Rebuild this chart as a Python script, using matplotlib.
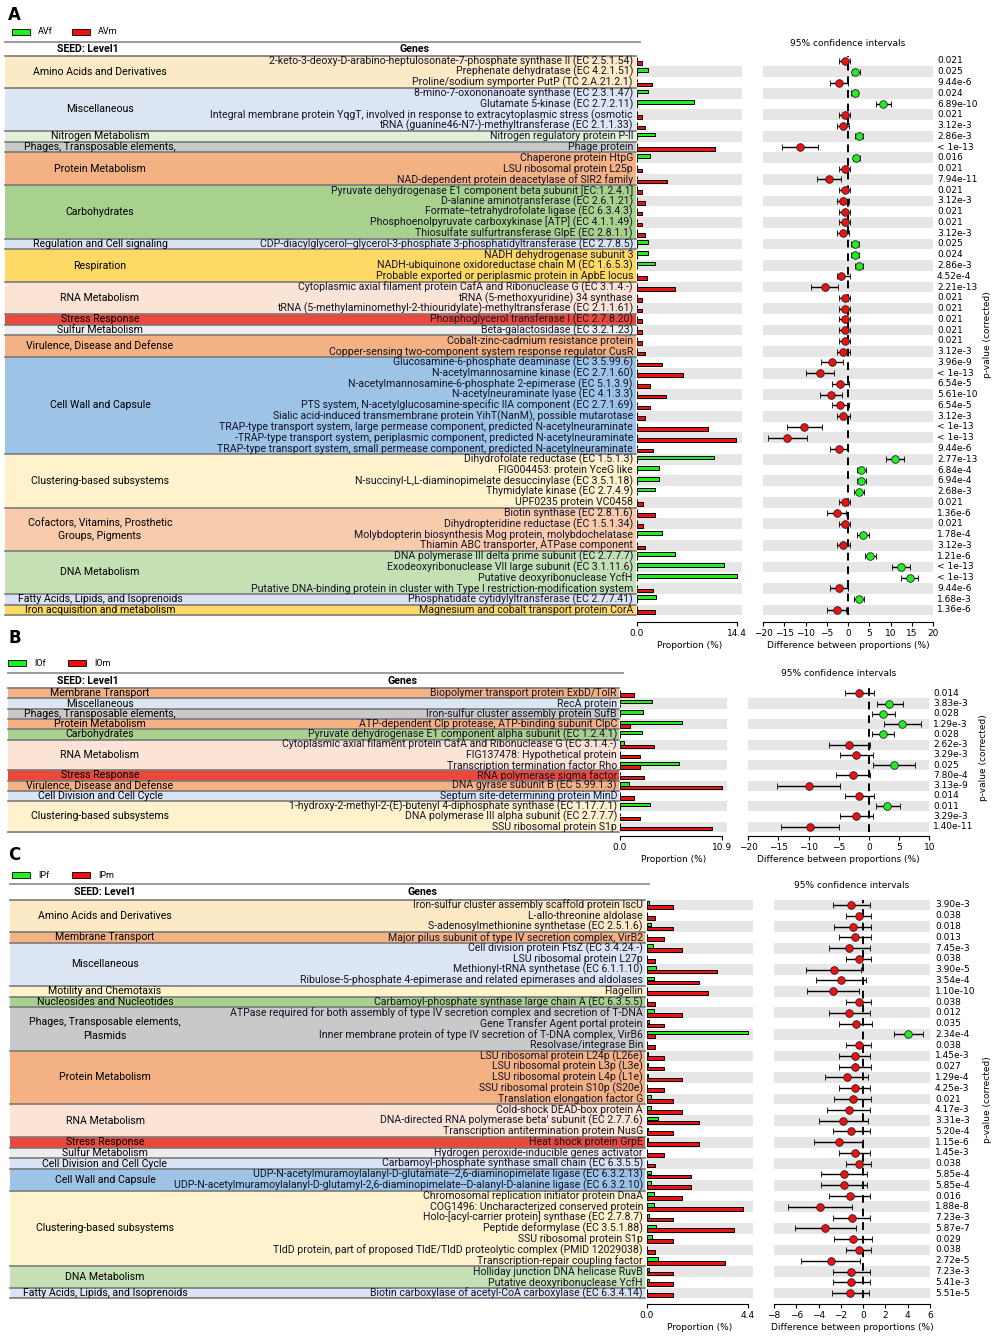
import matplotlib
matplotlib.use('Agg')
import matplotlib.pyplot as plt
from matplotlib.patches import Rectangle
import numpy as np

W, H = 996, 1339
GREEN = '#22ee22'
RED = '#ee1111'
SHADE = '#e6e6e6'
TFONT = 'Roboto'
TSIZE = 7.6
ASIZE = 6.5

# ---------------- panel A data ----------------
A_cats = ['Amino Acids and Derivatives', 'Miscellaneous', 'Nitrogen Metabolism',
          'Phages, Transposable elements,', 'Protein Metabolism', 'Carbohydrates',
          'Regulation and Cell signaling', 'Respiration', 'RNA Metabolism', 'Stress Response',
          'Sulfur Metabolism', 'Virulence, Disease and Defense', 'Cell Wall and Capsule',
          'Clustering-based subsystems', 'Cofactors, Vitamins, Prosthetic\nGroups, Pigments',
          'DNA Metabolism', 'Fatty Acids, Lipids, and Isoprenoids', 'Iron acquisition and metabolism']
A_sizes = [3, 4, 1, 1, 3, 5, 1, 3, 3, 1, 1, 2, 9, 5, 4, 4, 1, 1]
A_genes = [
    '2-keto-3-deoxy-D-arabino-heptulosonate-7-phosphate synthase II (EC 2.5.1.54)',
    'Prephenate dehydratase (EC 4.2.1.51)',
    'Proline/sodium symporter PutP (TC 2.A.21.2.1)',
    '8-mino-7-oxononanoate synthase (EC 2.3.1.47)',
    'Glutamate 5-kinase (EC 2.7.2.11)',
    'Integral membrane protein YqgT, involved in response to extracytoplasmic stress (osmotic',
    'tRNA (guanine46-N7-)-methyltransferase (EC 2.1.1.33)',
    'Nitrogen regulatory protein P-II',
    'Phage protein',
    'Chaperone protein HtpG',
    'LSU ribosomal protein L25p',
    'NAD-dependent protein deacetylase of SIR2 family',
    'Pyruvate dehydrogenase E1 component beta subunit [EC:1.2.4.1]',
    'D-alanine aminotransferase (EC 2.6.1.21)',
    'Formate--tetrahydrofolate ligase (EC 6.3.4.3)',
    'Phosphoenolpyruvate carboxykinase [ATP] (EC 4.1.1.49)',
    'Thiosulfate sulfurtransferase GlpE (EC 2.8.1.1)',
    'CDP-diacylglycerol--glycerol-3-phosphate 3-phosphatidyltransferase (EC 2.7.8.5)',
    'NADH dehydrogenase subunit 3',
    'NADH-ubiquinone oxidoreductase chain M (EC 1.6.5.3)',
    'Probable exported or periplasmic protein in ApbE locus',
    'Cytoplasmic axial filament protein CafA and Ribonuclease G (EC 3.1.4.-)',
    'tRNA (5-methoxyuridine) 34 synthase',
    'tRNA (5-methylaminomethyl-2-thiouridylate)-methyltransferase (EC 2.1.1.61)',
    'Phosphoglycerol transferase I (EC 2.7.8.20)',
    'Beta-galactosidase (EC 3.2.1.23)',
    'Cobalt-zinc-cadmium resistance protein',
    'Copper-sensing two-component system response regulator CusR',
    'Glucosamine-6-phosphate deaminase (EC 3.5.99.6)',
    'N-acetylmannosamine kinase (EC 2.7.1.60)',
    'N-acetylmannosamine-6-phosphate 2-epimerase (EC 5.1.3.9)',
    'N-acetylneuraminate lyase (EC 4.1.3.3)',
    'PTS system, N-acetylglucosamine-specific IIA component (EC 2.7.1.69)',
    'Sialic acid-induced transmembrane protein YihT(NanM), possible mutarotase',
    'TRAP-type transport system, large permease component, predicted N-acetylneuraminate',
    '-TRAP-type transport system, periplasmic component, predicted N-acetylneuraminate',
    'TRAP-type transport system, small permease component, predicted N-acetylneuraminate',
    'Dihydrofolate reductase (EC 1.5.1.3)',
    'FIG004453: protein YceG like',
    'N-succinyl-L,L-diaminopimelate desuccinylase (EC 3.5.1.18)',
    'Thymidylate kinase (EC 2.7.4.9)',
    'UPF0235 protein VC0458',
    'Biotin synthase (EC 2.8.1.6)',
    'Dihydropteridine reductase (EC 1.5.1.34)',
    'Molybdopterin biosynthesis Mog protein, molybdochelatase',
    'Thiamin ABC transporter, ATPase component',
    'DNA polymerase III delta prime subunit (EC 2.7.7.7)',
    'Exodeoxyribonuclease VII large subunit (EC 3.1.11.6)',
    'Putative deoxyribonuclease YcfH',
    'Putative DNA-binding protein in cluster with Type I restriction-modification system',
    'Phosphatidate cytidylyltransferase (EC 2.7.7.41)',
    'Magnesium and cobalt transport protein CorA',
]
A_green = [0, 1.6, 0, 1.6, 8.2, 0, 0, 2.6, 0, 1.8, 0, 0, 0, 0, 0, 0, 0, 1.6, 1.6, 2.6, 0, 0, 0, 0, 0, 0,
           0, 0, 0, 0, 0, 0, 0, 0, 0, 0, 0, 11.1, 3.1, 3.1, 2.65, 0, 0, 0, 3.55, 0, 5.4, 12.5, 14.4, 0, 2.7, 0]
A_red = [0.72, 0, 2.16, 0, 0, 0.72, 1.1, 0, 11.25, 0, 0.72, 4.3, 0.72, 1.1, 0.72, 0.72, 1.1, 0, 0, 0, 1.45, 5.4,
         0.72, 0.72, 0.72, 0.72,
         0.75, 1.15, 3.6, 6.6, 1.9, 4.1, 1.9, 1.15, 10.2, 14.3, 2.25, 0, 0, 0, 0, 0.8, 2.65, 0.8, 0, 1.2, 0, 0, 0,
         2.25, 0, 2.65]
A_diff = [-0.8, 1.7, -2.2, 1.6, 8.2, -0.8, -1.2, 2.6, -11.2, 1.95, -0.8, -4.5, -0.8, -1.2, -0.8, -0.8, -1.2, 1.65,
          1.65, 2.6, -1.55, -5.5, -0.8, -0.8, -0.8, -0.8,
          -0.8, -1.15, -3.75, -6.7, -1.8, -4.0, -1.8, -1.15, -10.3, -14.3, -2.2, 11.0, 3.0, 3.0, 2.5, -0.8, -2.6,
          -0.8, 3.5, -1.15, 5.25, 12.4, 14.5, -2.2, 2.6, -2.6]
A_lo = [-2.1, 0.95, -4.3, 0.8, 6.5, -2.1, -2.6, 1.65, -15.5, 1.1, -2.1, -7.2, -2.1, -2.6, -2.1, -2.1, -2.6, 0.8, 0.8,
        1.65, -2.6, -8.6, -2.1, -2.1, -2.1, -2.1,
        -2.1, -2.7, -6.4, -10.0, -3.8, -6.7, -3.8, -2.7, -14.35, -18.8, -4.3, 9.0, 2.0, 2.0, 1.35, -2.1, -4.9, -2.1,
        2.2, -2.7, 3.9, 10.4, 12.4, -4.3, 1.35, -4.9]
A_hi = [0.55, 2.75, 0.1, 2.35, 10.0, 0.55, 0.15, 3.5, -7.1, 2.8, 0.55, -1.7, 0.55, 0.15, 0.55, 0.55, 0.15, 2.6, 2.6,
        3.5, 0.4, -2.35, 0.55, 0.55, 0.55, 0.55,
        0.55, 0.4, -1.2, -3.3, 0.15, -1.35, 0.15, 0.4, -6.1, -9.65, 0.0, 13.1, 4.15, 4.15, 3.7, 0.55, -0.4, 0.55,
        4.9, 0.4, 6.65, 14.5, 16.55, 0.0, 3.7, -0.4]
A_p = ['0.021', '0.025', '9.44e-6', '0.024', '6.89e-10', '0.021', '3.12e-3', '2.86e-3', '< 1e-13', '0.016',
       '0.021', '7.94e-11', '0.021', '3.12e-3', '0.021', '0.021', '3.12e-3', '0.025', '0.024', '2.86e-3',
       '4.52e-4', '2.21e-13', '0.021', '0.021', '0.021', '0.021',
       '0.021', '3.12e-3', '3.96e-9', '< 1e-13', '6.54e-5', '5.61e-10', '6.54e-5', '3.12e-3', '< 1e-13',
       '< 1e-13', '9.44e-6', '2.77e-13', '6.84e-4', '6.94e-4', '2.68e-3', '0.021', '1.36e-6', '0.021',
       '1.78e-4', '3.12e-3', '1.21e-6', '< 1e-13', '< 1e-13', '9.44e-6', '1.68e-3', '1.36e-6']

# ---------------- panel B data ----------------
B_cats = ['Membrane Transport', 'Miscellaneous', 'Phages, Transposable elements,', 'Protein Metabolism',
          'Carbohydrates', 'RNA Metabolism', 'Stress Response', 'Virulence, Disease and Defense',
          'Cell Division and Cell Cycle', 'Clustering-based subsystems']
B_sizes = [1, 1, 1, 1, 1, 3, 1, 1, 1, 3]
B_genes = [
    'Biopolymer transport protein ExbD/TolR',
    'RecA protein',
    'Iron-sulfur cluster assembly protein SufB',
    'ATP-dependent Clp protease, ATP-binding subunit ClpC',
    'Pyruvate dehydrogenase E1 component alpha subunit (EC 1.2.4.1)',
    'Cytoplasmic axial filament protein CafA and Ribonuclease G (EC 3.1.4.-)',
    'FIG137478: Hypothetical protein',
    'Transcription termination factor Rho',
    'RNA polymerase sigma factor',
    'DNA gyrase subunit B (EC 5.99.1.3)',
    'Septum site-determining protein MinD',
    '1-hydroxy-2-methyl-2-(E)-butenyl 4-diphosphate synthase (EC 1.17.7.1)',
    'DNA polymerase III alpha subunit (EC 2.7.7.7)',
    'SSU ribosomal protein S1p',
]
B_green = [0, 3.4, 2.45, 6.6, 2.35, 0.47, 0, 6.3, 0, 0.95, 0, 3.2, 0, 0.05]
B_red = [1.55, 0, 0, 1.08, 0, 3.67, 2.1, 2.1, 2.6, 10.9, 1.55, 0, 2.1, 9.9]
B_diff = [-1.6, 3.4, 2.4, 5.5, 2.25, -3.25, -2.15, 4.15, -2.6, -10.0, -1.6, 3.05, -2.15, -9.8]
B_lo = [-4.0, 1.3, 0.55, 2.5, 0.45, -6.6, -4.8, 0.7, -5.5, -15.2, -4.0, 1.1, -4.8, -14.6]
B_hi = [0.8, 5.6, 4.35, 8.7, 4.15, 0.15, 0.6, 7.6, 0.15, -4.8, 0.8, 5.15, 0.6, -4.9]
B_p = ['0.014', '3.83e-3', '0.028', '1.29e-3', '0.028', '2.62e-3', '3.29e-3', '0.025', '7.80e-4', '3.13e-9',
       '0.014', '0.011', '3.29e-3', '1.40e-11']

# ---------------- panel C data ----------------
C_cats = ['Amino Acids and Derivatives', 'Membrane Transport', 'Miscellaneous', 'Motility and Chemotaxis',
          'Nucleosides and Nucleotides', 'Phages, Transposable elements,\nPlasmids', 'Protein Metabolism',
          'RNA Metabolism', 'Stress Response', 'Sulfur Metabolism', 'Cell Division and Cell Cycle',
          'Cell Wall and Capsule', 'Clustering-based subsystems', 'DNA Metabolism',
          'Fatty Acids, Lipids, and Isoprenoids']
C_sizes = [3, 1, 4, 1, 1, 4, 5, 3, 1, 1, 1, 2, 7, 2, 1]
C_genes = [
    'Iron-sulfur cluster assembly scaffold protein IscU',
    'L-allo-threonine aldolase',
    'S-adenosylmethionine synthetase (EC 2.5.1.6)',
    'Major pilus subunit of type IV secretion complex, VirB2',
    'Cell division protein FtsZ (EC 3.4.24.-)',
    'LSU ribosomal protein L27p',
    'Methionyl-tRNA synthetase (EC 6.1.1.10)',
    'Ribulose-5-phosphate 4-epimerase and related epimerases and aldolases',
    'Flagellin',
    'Carbamoyl-phosphate synthase large chain A (EC 6.3.5.5)',
    'ATPase required for both assembly of type IV secretion complex and secretion of T-DNA',
    'Gene Transfer Agent portal protein',
    'Inner membrane protein of type IV secretion of T-DNA complex, VirB6',
    'Resolvase/integrase Bin',
    'LSU ribosomal protein L24p (L26e)',
    'LSU ribosomal protein L3p (L3e)',
    'LSU ribosomal protein L4p (L1e)',
    'SSU ribosomal protein S10p (S20e)',
    'Translation elongation factor G',
    'Cold-shock DEAD-box protein A',
    "DNA-directed RNA polymerase beta' subunit (EC 2.7.7.6)",
    'Transcription antitermination protein NusG',
    'Heat shock protein GrpE',
    'Hydrogen peroxide-inducible genes activator',
    'Carbamoyl-phosphate synthase small chain (EC 6.3.5.5)',
    'UDP-N-acetylmuramoylalanyl-D-glutamate--2,6-diaminopimelate ligase (EC 6.3.2.13)',
    'UDP-N-acetylmuramoylalanyl-D-glutamyl-2,6-diaminopimelate--D-alanyl-D-alanine ligase (EC 6.3.2.10)',
    'Chromosomal replication initiator protein DnaA',
    'COG1496: Uncharacterized conserved protein',
    'Holo-[acyl-carrier protein] synthase (EC 2.7.8.7)',
    'Peptide deformylase (EC 3.5.1.88)',
    'SSU ribosomal protein S1p',
    'TldD protein, part of proposed TldE/TldD proteolytic complex (PMID 12029038)',
    'Transcription-repair coupling factor',
    'Holliday junction DNA helicase RuvB',
    'Putative deoxyribonuclease YcfH',
    'Biotin carboxylase of acetyl-CoA carboxylase (EC 6.3.4.14)',
]
C_green = [0.07, 0, 0.19, 0, 0.26, 0, 0.39, 0.29, 0, 0, 0.29, 0.07, 4.4, 0, 0.03, 0.03, 0.03, 0, 0.19, 0.19,
           0.48, 0.03, 0.03, 0, 0, 0.19, 0.19, 0.3, 0.29, 0.1, 0.38, 0.2, 0, 0.49, 0.07, 0.07, 0]
C_red = [1.13, 0.36, 1.13, 0.75, 1.52, 0.36, 3.05, 2.28, 2.67, 0.36, 1.52, 0.75, 0.36, 0.36, 0.75, 0.75, 1.52,
         0.75, 1.13, 1.52, 2.28, 1.13, 2.28, 0.75, 0.36, 1.9, 1.9, 1.52, 4.2, 1.13, 3.8, 1.13, 0.36, 3.42, 1.13,
         1.13, 1.13]
C_diff = [-1.05, -0.4, -0.95, -0.7, -1.25, -0.4, -2.65, -2.0, -2.7, -0.4, -1.25, -0.65, 4.05, -0.4, -0.75, -0.7,
          -1.45, -0.7, -0.95, -1.3, -1.8, -1.1, -2.2, -0.75, -0.4, -1.7, -1.7, -1.2, -3.85, -1.0, -3.4, -0.9, -0.4,
          -2.9, -1.05, -1.05, -1.15]
C_lo = [-2.7, -1.5, -2.6, -2.15, -3.1, -1.5, -5.15, -4.2, -5.0, -1.5, -3.1, -2.15, 2.75, -1.5, -2.2, -2.15, -3.4,
        -2.2, -2.6, -3.2, -4.0, -2.75, -4.45, -2.2, -1.5, -3.75, -3.75, -3.05, -6.7, -2.7, -6.15, -2.6, -1.5,
        -5.55, -2.7, -2.7, -2.8]
C_hi = [0.65, 0.7, 0.7, 0.7, 0.6, 0.7, -0.15, 0.25, -0.35, 0.7, 0.6, 0.8, 5.35, 0.7, 0.65, 0.7, 0.45, 0.65, 0.7,
        0.6, 0.45, 0.6, 0.0, 0.65, 0.7, 0.35, 0.35, 0.65, -1.0, 0.65, -0.65, 0.75, 0.7, -0.3, 0.65, 0.65, 0.55]
C_p = ['3.90e-3', '0.038', '0.018', '0.013', '7.45e-3', '0.038', '3.90e-5', '3.54e-4', '1.10e-10', '0.038',
       '0.012', '0.035', '2.34e-4', '0.038', '1.45e-3', '0.027', '1.29e-4', '4.25e-3', '0.021', '4.17e-3',
       '3.31e-3', '5.20e-4', '1.15e-6', '1.45e-3', '0.038', '5.85e-4', '5.85e-4', '0.016', '1.88e-8', '7.23e-3',
       '5.87e-7', '0.029', '0.038', '2.72e-5', '7.23e-3', '5.41e-3', '5.51e-5']

CAT_COLORS = {
    'Amino Acids and Derivatives': '#fce9c6',
    'Miscellaneous': '#dce6f2',
    'Nitrogen Metabolism': '#e2efd9',
    'Phages, Transposable elements,': '#c9c9c9',
    'Phages, Transposable elements,\nPlasmids': '#c9c9c9',
    'Protein Metabolism': '#f4b183',
    'Carbohydrates': '#a9d18e',
    'Regulation and Cell signaling': '#dae3f3',
    'Respiration': '#ffd966',
    'RNA Metabolism': '#fbe3d6',
    'Stress Response': '#e9483b',
    'Sulfur Metabolism': '#ededed',
    'Virulence, Disease and Defense': '#f4b183',
    'Cell Wall and Capsule': '#9dc3e6',
    'Clustering-based subsystems': '#fff2cc',
    'Cofactors, Vitamins, Prosthetic\nGroups, Pigments': '#f8cbad',
    'DNA Metabolism': '#c5e0b4',
    'Fatty Acids, Lipids, and Isoprenoids': '#dae3f3',
    'Iron acquisition and metabolism': '#ffd966',
    'Membrane Transport': '#f4b183',
    'Cell Division and Cell Cycle': '#dae3f3',
    'Motility and Chemotaxis': '#fff2cc',
    'Nucleosides and Nucleotides': '#a9d18e',
}

fig = plt.figure(figsize=(W / 100, H / 100), dpi=100)
base = fig.add_axes([0, 0, 1, 1])
base.set_xlim(0, W)
base.set_ylim(H, 0)
base.axis('off')


def px_axes(x0, y0, x1, y1):
    return fig.add_axes([x0 / W, 1 - y1 / H, (x1 - x0) / W, (y1 - y0) / H])


def draw_panel(letter, letter_y, names, leg_x, leg_y, line_y, head_y, top, rh, tx0, tx1, gene_x, cat_x, seed_x,
               genes_x, cats, sizes, genes, green, red, diff, lo, hi, pvals, bx, bmax, btick, cx, clim, cticks,
               p_x, plab, title_y, outward, lab_y):
    n = len(genes)
    bottom = top + n * rh
    base.text(8, letter_y, letter, fontsize=12, fontweight='bold', va='center', ha='left')

    # legend
    for k, (nm, col) in enumerate(zip(names, [GREEN, RED])):
        x = leg_x + k * 60
        base.add_patch(Rectangle((x, leg_y - 3), 18, 6, fc=col, ec='black', lw=0.6))
        base.text(x + 26, leg_y, nm, fontsize=ASIZE, va='center', ha='left', family=TFONT)

    base.plot([tx0, tx1 + 4], [line_y, line_y], color='#9a9a9a', lw=1.4)
    base.text(seed_x, head_y, 'SEED: Level1', fontsize=TSIZE, fontweight='bold', ha='center', va='center',
              family=TFONT)
    base.text(genes_x, head_y, 'Genes', fontsize=TSIZE, fontweight='bold', ha='center', va='center', family=TFONT)

    start = 0
    for name, size in zip(cats, sizes):
        y0 = top + start * rh
        y1 = y0 + size * rh
        base.add_patch(Rectangle((tx0, y0), tx1 - tx0, y1 - y0, fc=CAT_COLORS[name], ec='none'))
        base.plot([tx0, tx1], [y0, y0], color='#7a7a7a', lw=1.2)
        base.text(cat_x, (y0 + y1) / 2, name, ha='center', va='center', fontsize=TSIZE, family=TFONT,
                  linespacing=1.4)
        start += size
    base.plot([tx0, tx1], [bottom, bottom], color='#7a7a7a', lw=1.2)

    for i, g in enumerate(genes):
        base.text(gene_x, top + (i + 0.5) * rh, g, ha='right', va='center', fontsize=TSIZE, family=TFONT,
                  color='#141428')

    y = np.arange(n)
    shaded = [i for i in range(n) if (n - 1 - i) % 2 == 0]

    # proportion bars
    ab = px_axes(bx[0], top, bx[1], bottom)
    ab.set_xlim(0, bmax)
    ab.set_ylim(n - 0.5, -0.5)
    for i in shaded:
        ab.axhspan(i - 0.5, i + 0.5, color=SHADE, lw=0, zorder=0)
    ab.barh(y - 0.18, green, height=0.34, color=GREEN, edgecolor='black', lw=0.7, zorder=2)
    ab.barh(y + 0.18, red, height=0.34, color=RED, edgecolor='black', lw=0.7, zorder=2)
    for s in ['top', 'right', 'left']:
        ab.spines[s].set_visible(False)
    ab.spines['bottom'].set_position(('outward', outward))
    ab.spines['bottom'].set_bounds(0, btick)
    ab.set_xticks([0, btick])
    ab.set_xticklabels(['0.0', f'{btick}'])
    ab.set_yticks([])
    ab.tick_params(axis='x', labelsize=ASIZE, length=3, width=0.8, pad=2)
    ab.patch.set_alpha(0)
    base.text((bx[0] + bx[1]) / 2, lab_y, 'Proportion (%)', ha='center', va='center', fontsize=ASIZE)

    # confidence intervals
    ac = px_axes(cx[0], top, cx[1], bottom)
    ac.set_xlim(*clim)
    ac.set_ylim(n - 0.5, -0.5)
    for i in shaded:
        ac.axhspan(i - 0.5, i + 0.5, color=SHADE, lw=0, zorder=0)
    ac.axvline(0, color='black', lw=1.4, ls=(0, (4, 3)), zorder=1)
    for i in range(n):
        col = GREEN if diff[i] > 0 else RED
        ac.errorbar(diff[i], i, xerr=[[diff[i] - lo[i]], [hi[i] - diff[i]]], fmt='o', color=col, mec='#222222',
                    mew=0.6, ms=5.5, ecolor='black', elinewidth=1, capsize=2.5, capthick=1, zorder=3)
    for s in ['top', 'right', 'left']:
        ac.spines[s].set_visible(False)
    ac.spines['bottom'].set_position(('outward', outward))
    ac.set_xticks(cticks)
    ac.set_yticks([])
    ac.tick_params(axis='x', labelsize=ASIZE, length=3, width=0.8, pad=2)
    ac.patch.set_alpha(0)
    base.text((cx[0] + cx[1]) / 2, title_y, '95% confidence intervals', ha='center', va='center', fontsize=ASIZE)
    base.text((cx[0] + cx[1]) / 2, lab_y, 'Difference between proportions (%)', ha='center', va='center',
              fontsize=ASIZE)

    for i, p in enumerate(pvals):
        base.text(p_x, top + (i + 0.5) * rh, p, ha='left', va='center', fontsize=ASIZE)
    base.text(plab[0], plab[1], 'p-value (corrected)', rotation=90, ha='center', va='center', fontsize=ASIZE)


draw_panel('A', 15, ['AVf', 'AVm'], 12, 32, 42, 49.5, 55.6, 10.765, 5, 636, 633, 100, 88, 415,
           A_cats, A_sizes, A_genes, A_green, A_red, A_diff, A_lo, A_hi, A_p,
           (637, 742), 15.1, 14.4, (763, 933), (-20, 20), np.arange(-20, 21, 5),
           937, (988, 335), 43, 5, 645)

draw_panel('B', 638, ['IOf', 'IOm'], 8, 663, 673, 681, 688.2, 10.26, 8, 619, 617, 100, 88, 403,
           B_cats, B_sizes, B_genes, B_green, B_red, B_diff, B_lo, B_hi, B_p,
           (620, 727), 11.47, 10.9, (748.3, 929.3), (-20, 10), np.arange(-20, 11, 5),
           933, (983, 758), 674, 3, 860)

draw_panel('C', 855, ['IPf', 'IPm'], 12, 875, 884, 892, 899.6, 10.78, 10, 645, 643, 105, 105, 422,
           C_cats, C_sizes, C_genes, C_green, C_red, C_diff, C_lo, C_hi, C_p,
           (647, 753), 4.62, 4.4, (774, 930), (-8, 6), np.arange(-8, 7, 2),
           935, (987, 1100), 886, 4, 1328)

fig.savefig('out.png', dpi=100)
